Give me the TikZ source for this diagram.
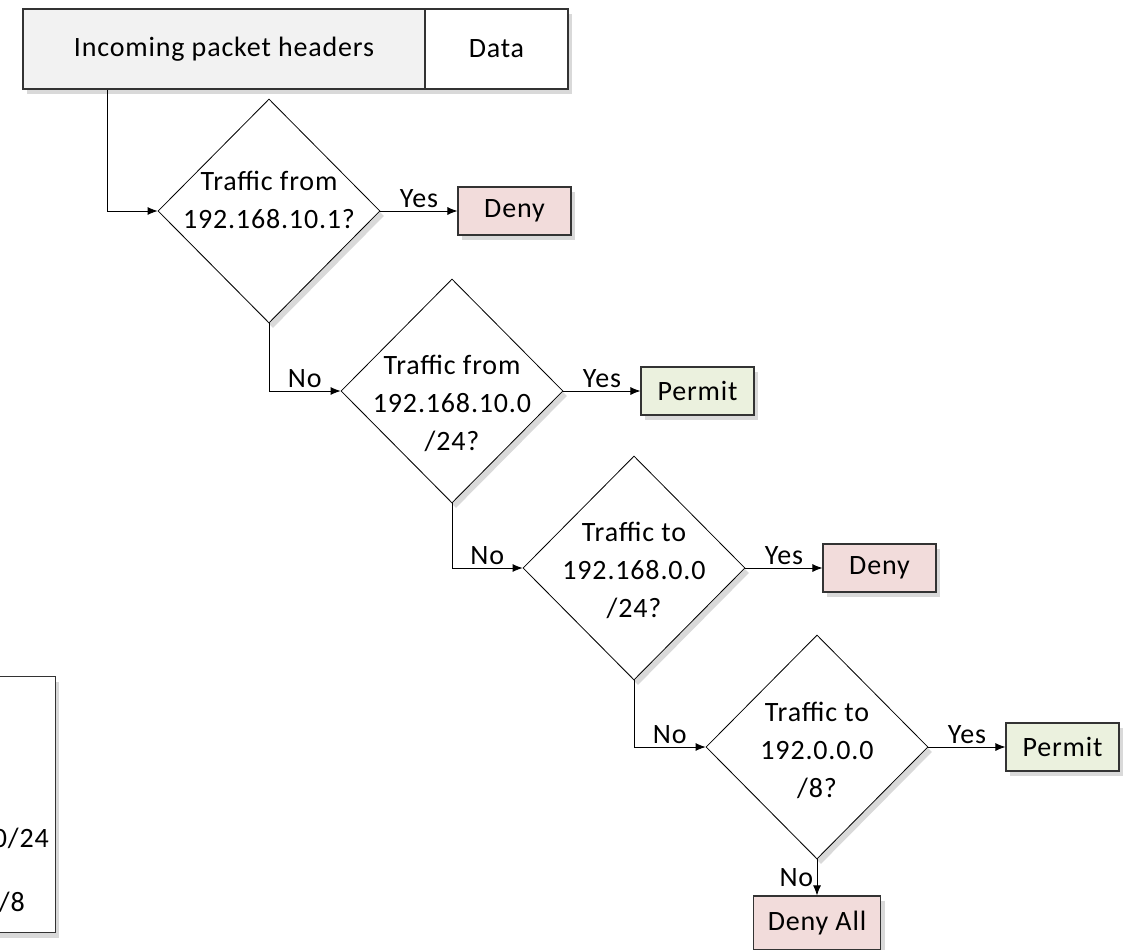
\documentclass[tikz,border=0pt]{standalone}
\usepackage{fontspec}
\setmainfont{Carlito}[LetterSpace=3]
\usepackage{tikz}
\usetikzlibrary{positioning, shapes.geometric, arrows.meta, shadows}

\definecolor{hdrgrey}{HTML}{F2F2F2}
\definecolor{denyred}{HTML}{F2DCDB}
\definecolor{permitgreen}{HTML}{EBF1DE}
\definecolor{edgegrey}{HTML}{333333}

\begin{document}
\begin{tikzpicture}[x=1pt, y=-1pt,
    every node/.style={font=\fontsize{28}{38}\selectfont},
    softshadow/.style={drop shadow={shadow xshift=4pt, shadow yshift=-5pt, opacity=0.3}},
    dia/.style={diamond, draw, line width=0.8pt, fill=white, minimum width=222pt, minimum height=224pt, inner sep=0pt, softshadow},
    verdict/.style={rectangle, draw=edgegrey, line width=1.2pt, minimum width=113pt, minimum height=48pt, inner sep=0pt, softshadow},
    arr/.style={-{Latex[length=10pt, width=8pt]}, line width=0.8pt},
    node distance=77pt]
    \useasboundingbox (0,0) rectangle (1130,950);

    % Packet
    \node[rectangle, draw=edgegrey, line width=1.5pt, fill=hdrgrey, minimum width=402pt, minimum height=80pt, softshadow] (hdr) at (224,49) {Incoming packet headers};
    \node[rectangle, draw=edgegrey, line width=1.5pt, fill=white, minimum width=143pt, minimum height=80pt, right=-1.5pt of hdr, softshadow] (data) {Data};

    % Access list (cut off)
    \node[rectangle, draw=edgegrey, line width=1.2pt, fill=white, minimum width=120pt, minimum height=256pt, anchor=north east, softshadow] (acl) at (56,676) {};
    \node[anchor=east, inner sep=2pt] (aclA) at (51,838) {0/24};
    \node[anchor=east, inner sep=2pt] (aclB) at (27,902) {/8};

    % Checks
    \node[dia, label={[align=center, yshift=11pt]center:{Traffic from\\192.168.10.1?}}] (q1) at (269,211) {};
    \node[dia, label={[align=center, yshift=-12pt]center:{Traffic from\\192.168.10.0\\/24?}}] (q2) at (452,391) {};
    \node[dia, label={[align=center, yshift=-2pt]center:{Traffic to\\192.168.0.0\\/24?}}] (q3) at (634,568) {};
    \node[dia, label={[align=center, yshift=-3pt]center:{Traffic to\\192.0.0.0\\/8?}}] (q4) at (817,747) {};

    % Results
    \node[verdict, fill=denyred, right=of q1] (deny1) {Deny};
    \node[verdict, fill=permitgreen, right=of q2] (permit1) {Permit};
    \node[verdict, fill=denyred, right=of q3] (deny2) {Deny};
    \node[verdict, fill=permitgreen, right=of q4] (permit2) {Permit};
    \node[verdict, fill=denyred, minimum width=127pt, minimum height=54pt, below=36pt of q4] (denyall) {Deny All};

    \draw[arr] ([xshift=85pt]hdr.south west) |- (q1.west);
    \draw[arr] (q1.east) -- node[above] {Yes} (deny1);
    \draw[arr] (q1.south) |- node[above, pos=0.75] {No} (q2.west);
    \draw[arr] (q2.east) -- node[above] {Yes} (permit1);
    \draw[arr] (q2.south) |- node[above, pos=0.75] {No} (q3.west);
    \draw[arr] (q3.east) -- node[above] {Yes} (deny2);
    \draw[arr] (q3.south) |- node[above, pos=0.75] {No} (q4.west);
    \draw[arr] (q4.east) -- node[above] {Yes} (permit2);
    \draw[arr] (q4.south) -- node[left] {No} (denyall);
\end{tikzpicture}
\end{document}
